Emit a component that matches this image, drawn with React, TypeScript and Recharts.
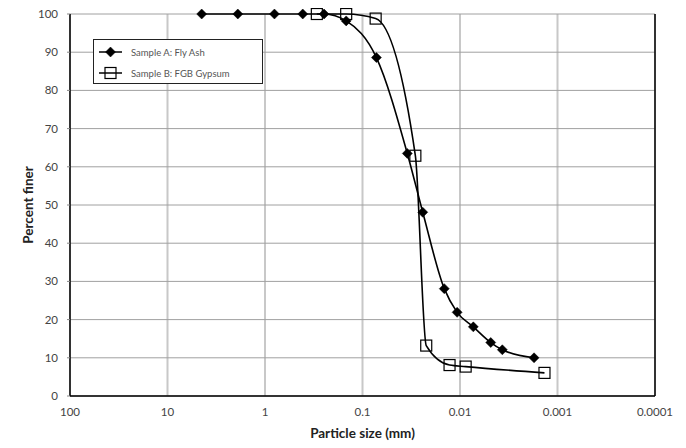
import React from "react";
import {
  LineChart,
  Line,
  XAxis,
  YAxis,
  CartesianGrid,
  Legend,
  ReferenceLine,
} from "recharts";

const sampleAName = "Sample A: Fly Ash";
const sampleBName = "Sample B: FGB Gypsum";

const sampleASizes = [4.46, 1.9, 0.8, 0.41, 0.248, 0.147, 0.072, 0.0347, 0.0241, 0.0145, 0.0107, 0.0073, 0.00484, 0.00368, 0.00174];
const sampleAPercent = [100, 100, 100, 100, 100, 98.2, 88.6, 63.5, 48.1, 28.1, 21.9, 18.1, 14.0, 12.1, 10.0];

const sampleBSizes = [0.294, 0.147, 0.0733, 0.0287, 0.0222, 0.0128, 0.00875, 0.00136];
const sampleBPercent = [100, 100, 98.8, 62.9, 13.2, 8.1, 7.7, 6.05];

const xTicks = [100, 10, 1, 0.1, 0.01, 0.001, 0.0001];
const yTicks = [0, 10, 20, 30, 40, 50, 60, 70, 80, 90, 100];

const dataA = sampleASizes.map((s, i) => ({ size: s, pct: sampleAPercent[i] }));
const dataB = sampleBSizes.map((s, i) => ({ size: s, pct: sampleBPercent[i] }));

const FONT = "Lato, 'Noto Sans', sans-serif";

const Diamond = (props: any) => {
  const { cx, cy } = props;
  if (cx == null || cy == null) return null;
  const r = 5;
  return (
    <polygon
      points={`${cx},${cy - r} ${cx + r},${cy} ${cx},${cy + r} ${cx - r},${cy}`}
      fill="#000"
      stroke="#000"
      strokeWidth={0.5}
    />
  );
};

const Square = (props: any) => {
  const { cx, cy } = props;
  if (cx == null || cy == null) return null;
  const h = 5.5;
  return (
    <rect x={cx - h} y={cy - h} width={2 * h} height={2 * h} fill="none" stroke="#000" strokeWidth={1.2} />
  );
};

const LegendBox = () => (
  <div
    style={{
      width: 170,
      height: 45,
      border: "1px solid #222",
      background: "#fff",
      boxSizing: "border-box",
      position: "relative",
    }}
  >
    <svg width={170} height={45} style={{ position: "absolute", left: 0, top: 0 }}>
      <line x1={5} x2={28} y1={12} y2={12} stroke="#000" strokeWidth={1.5} />
      <Diamond cx={16.5} cy={12} />
      <text x={37} y={15.5} fontSize={9.5} fill="#555" fontFamily={FONT}>
        {sampleAName}
      </text>
      <line x1={5} x2={28} y1={33} y2={33} stroke="#000" strokeWidth={1.5} />
      <Square cx={16.5} cy={33} />
      <text x={37} y={36.5} fontSize={9.5} fill="#555" fontFamily={FONT}>
        {sampleBName}
      </text>
    </svg>
  </div>
);

export default function App() {
  return (
    <div style={{ width: 678, height: 440, fontFamily: FONT }}>
      <LineChart
        width={678}
        height={440}
        margin={{ top: 6, right: 31, bottom: 22, left: 0 }}
      >
        <CartesianGrid horizontal={false} stroke="#c8c8c8" strokeWidth={2} />
        <CartesianGrid vertical={false} stroke="#a0a0a0" strokeWidth={1} />
        <XAxis
          type="number"
          dataKey="size"
          scale="log"
          domain={[0.0001, 100]}
          reversed
          ticks={xTicks}
          tickFormatter={(v: number) => String(v)}
          allowDataOverflow
          height={30}
          tickLine={false}
          axisLine={{ stroke: "#000", strokeWidth: 1.5 }}
          tick={{ fill: "#444", fontSize: 11.5, fontFamily: FONT }}
          tickMargin={6}
          interval={0}
          label={{
            value: "Particle size (mm)",
            position: "bottom",
            offset: 2,
            style: { fill: "#222", fontSize: 13.5, fontWeight: 700, fontFamily: FONT },
          }}
        />
        <YAxis
          type="number"
          dataKey="pct"
          domain={[0, 100]}
          ticks={yTicks}
          interval={0}
          width={62}
          tickSize={3}
          tickMargin={9}
          tickLine={{ stroke: "#888" }}
          axisLine={{ stroke: "#000", strokeWidth: 1.5 }}
          tick={{ fill: "#444", fontSize: 11.5, fontFamily: FONT }}
          label={{
            value: "Percent finer",
            angle: -90,
            position: "insideLeft",
            offset: 20,
            style: { textAnchor: "middle", fill: "#222", fontSize: 13.5, fontWeight: 700, fontFamily: FONT },
          }}
        />
        <ReferenceLine x={0.0001} stroke="#000" strokeWidth={1.5} ifOverflow="extendDomain" />
        <Legend
          layout="vertical"
          align="center"
          verticalAlign="middle"
          content={() => <LegendBox />}
          wrapperStyle={{ position: "absolute", left: 85, top: 31, width: 170, height: 45 }}
        />
        <Line
          data={dataA}
          dataKey="pct"
          name={sampleAName}
          type="monotone"
          stroke="#000"
          strokeWidth={1.6}
          dot={<Diamond />}
          activeDot={false}
          isAnimationActive={false}
        />
        <Line
          data={dataB}
          dataKey="pct"
          name={sampleBName}
          type="monotone"
          stroke="#000"
          strokeWidth={1.6}
          dot={<Square />}
          activeDot={false}
          isAnimationActive={false}
        />
      </LineChart>
    </div>
  );
}
